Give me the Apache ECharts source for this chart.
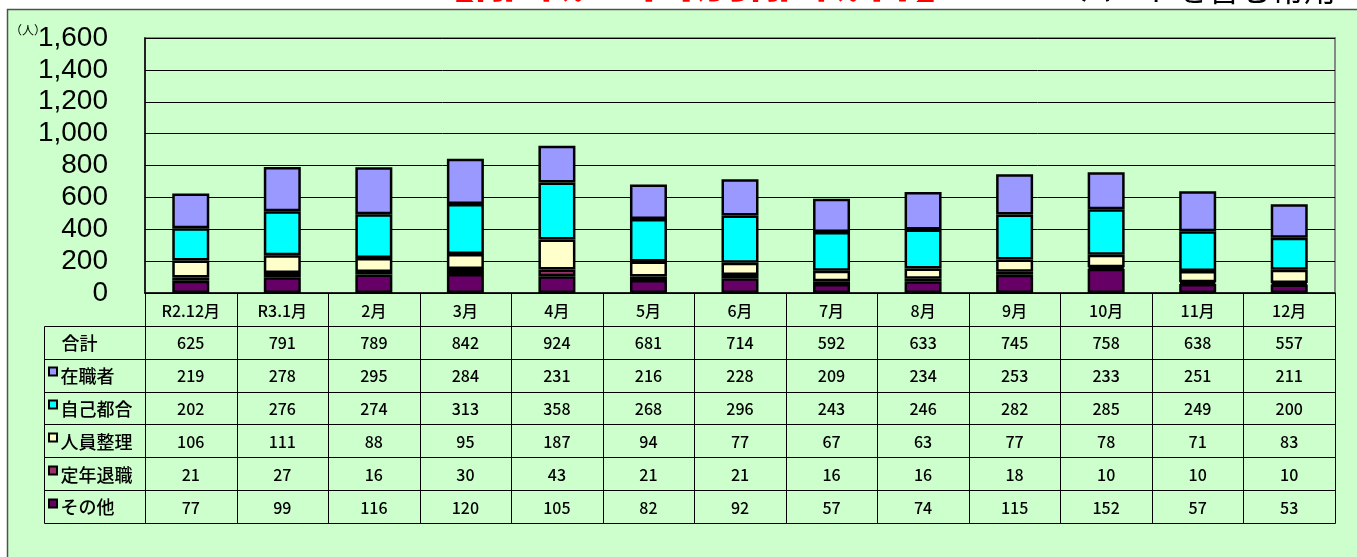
<!DOCTYPE html>
<html>
<head>
<meta charset="utf-8">
<script src="https://cdn.jsdelivr.net/npm/echarts@6/dist/echarts.min.js"></script>
<style>
  html, body { margin: 0; padding: 0; background: #ffffff; }
  #main { width: 1357px; height: 557px; }
</style>
</head>
<body>
<div id="main"></div>
<script>
// Months shown along the horizontal axis / table header
const categories = ['R2.12月', 'R3.1月', '2月', '3月', '4月', '5月', '6月', '7月', '8月', '9月', '10月', '11月', '12月'];

// Number of separated workers by reason (persons)
const totals     = [625, 791, 789, 842, 924, 681, 714, 592, 633, 745, 758, 638, 557];
const employed   = [219, 278, 295, 284, 231, 216, 228, 209, 234, 253, 233, 251, 211]; // 在職者
const selfReason = [202, 276, 274, 313, 358, 268, 296, 243, 246, 282, 285, 249, 200]; // 自己都合
const layoffs    = [106, 111, 88, 95, 187, 94, 77, 67, 63, 77, 78, 71, 83];          // 人員整理
const retirement = [21, 27, 16, 30, 43, 21, 21, 16, 16, 18, 10, 10, 10];             // 定年退職
const others     = [77, 99, 116, 120, 105, 82, 92, 57, 74, 115, 152, 57, 53];        // その他

// Value axis tick labels
const yTickValues = [0, 200, 400, 600, 800, 1000, 1200, 1400, 1600];

const seriesNames  = ['その他', '定年退職', '人員整理', '自己都合', '在職者'];
const seriesValues = [others, retirement, layoffs, selfReason, employed];
const seriesColors = ['#660066', '#993366', '#FFFFCC', '#00FFFF', '#9999FF'];

// Table rows (top to bottom); first entry is the month header row
const tableRows = [
  { label: '',         values: categories, color: null },
  { label: '合計',     values: totals,     color: null },
  { label: '在職者',   values: employed,   color: '#9999FF' },
  { label: '自己都合', values: selfReason, color: '#00FFFF' },
  { label: '人員整理', values: layoffs,    color: '#FFFFCC' },
  { label: '定年退職', values: retirement, color: '#993366' },
  { label: 'その他',   values: others,     color: '#660066' }
];

const chart = echarts.init(document.getElementById('main'), null, { renderer: 'canvas' });

const CJK = '"Noto Sans CJK JP", "Noto Sans", sans-serif';

// cells of the data table: [column, row]
const cellData = [];
tableRows.forEach(function (row, r) {
  categories.forEach(function (c, i) { cellData.push([i, r]); });
});
const labelData = [];
tableRows.forEach(function (row, r) { if (r > 0) labelData.push([0, r]); });

function crisp(v) { return Math.round(v) + 0.5; }

function renderCell(params, api) {
  const col = api.value(0), row = api.value(1);
  const c = api.coord([col, row]);
  const s = api.size([1, 1]);
  const x0 = crisp(c[0] - s[0] / 2), x1 = crisp(c[0] + s[0] / 2);
  const y0 = crisp(c[1] - s[1] / 2), y1 = crisp(c[1] + s[1] / 2);
  const text = String(tableRows[row].values[col]);
  return {
    type: 'group',
    children: [
      { type: 'rect', shape: { x: x0, y: y0, width: x1 - x0, height: y1 - y0 },
        style: { fill: 'none', stroke: '#000', lineWidth: 1 } },
      { type: 'text', x: c[0], y: c[1] + 1,
        style: { text: text, align: 'center', verticalAlign: 'middle',
                 font: '500 16px ' + CJK, fill: '#000' } }
    ]
  };
}

function renderRowLabel(params, api) {
  const row = api.value(1);
  const c = api.coord([0, row]);
  const s = api.size([1, 1]);
  const right = crisp(params.coordSys.x);
  const left = crisp(params.coordSys.x - 101);
  const y0 = crisp(c[1] - s[1] / 2), y1 = crisp(c[1] + s[1] / 2);
  const info = tableRows[row];
  const children = [
    { type: 'rect', shape: { x: left, y: y0, width: right - left, height: y1 - y0 },
      style: { fill: 'none', stroke: '#000', lineWidth: 1 } }
  ];
  if (info.color) {
    children.push({ type: 'rect', shape: { x: left + 4.5, y: Math.round(c[1]) - 7.5, width: 8, height: 8 },
      style: { fill: info.color, stroke: '#000', lineWidth: 2 } });
    children.push({ type: 'text', x: left + 16, y: c[1] + 1,
      style: { text: info.label, align: 'left', verticalAlign: 'middle', font: '500 18px ' + CJK, fill: '#000' } });
  } else {
    children.push({ type: 'text', x: left + 17, y: c[1] + 1,
      style: { text: info.label, align: 'left', verticalAlign: 'middle', font: '500 18px ' + CJK, fill: '#000' } });
  }
  return { type: 'group', children: children };
}

const barSeries = seriesNames.map(function (name, i) {
  return {
    name: name,
    type: 'bar',
    stack: 'total',
    xAxisIndex: 0,
    yAxisIndex: 0,
    barWidth: 37,
    data: seriesValues[i],
    itemStyle: { color: seriesColors[i], borderColor: '#000', borderWidth: 2.5 },
    emphasis: { disabled: true },
    z: 3
  };
});

const option = {
  animation: false,
  backgroundColor: '#ffffff',
  graphic: [
    { type: 'text', x: 420, y: 3, z: -1,
      style: { text: '【離職理由別離職者】', font: 'bold 55px ' + CJK, fill: '#FF0000',
               align: 'left', verticalAlign: 'bottom' } },
    { type: 'text', x: 1080, y: 5, z: -1,
      style: { text: 'パートを含む常用', font: '32px ' + CJK, fill: '#000',
               align: 'left', verticalAlign: 'bottom' } },
    { type: 'rect', z: -1, silent: true,
      shape: { x: 7.5, y: 9.5, width: 1400, height: 600 },
      style: { fill: '#CCFFCC', stroke: '#505050', lineWidth: 1.5 } },
    { type: 'text', x: 10, y: 30, z: 5,
      style: { text: '（人）', font: '12px ' + CJK, fill: '#000', align: 'left', verticalAlign: 'middle' } }
  ],
  grid: [
    { left: 145, right: 22, top: 38, bottom: 264, show: true,
      backgroundColor: 'transparent', borderColor: '#888888', borderWidth: 2 },
    { left: 145, right: 22, top: 293, height: 230, show: false }
  ],
  xAxis: [
    { type: 'category', gridIndex: 0, data: categories,
      axisLine: { lineStyle: { color: '#000', width: 1.5 } },
      axisTick: { show: false }, axisLabel: { show: false } },
    { type: 'category', gridIndex: 1, data: categories, show: false }
  ],
  yAxis: [
    { type: 'value', gridIndex: 0, min: 0, max: 1600, interval: 200,
      axisLine: { show: true, lineStyle: { color: '#000', width: 1.5 } },
      axisTick: { show: false },
      splitLine: { lineStyle: { color: '#000', width: 1 } },
      axisLabel: { margin: 37, color: '#000', fontSize: 28, fontFamily: '"Liberation Sans", Arial, sans-serif',
        formatter: function (v) { return yTickValues.indexOf(v) >= 0 ? v.toLocaleString('en-US') : ''; } } },
    { type: 'category', gridIndex: 1, data: tableRows.map(function (r) { return r.label; }),
      inverse: true, show: false }
  ],
  series: barSeries.concat([
    { type: 'custom', xAxisIndex: 1, yAxisIndex: 1, renderItem: renderCell, data: cellData,
      silent: true, z: 4 },
    { type: 'custom', xAxisIndex: 1, yAxisIndex: 1, renderItem: renderRowLabel, data: labelData,
      silent: true, z: 4 }
  ])
};

chart.setOption(option);
</script>
</body>
</html>
